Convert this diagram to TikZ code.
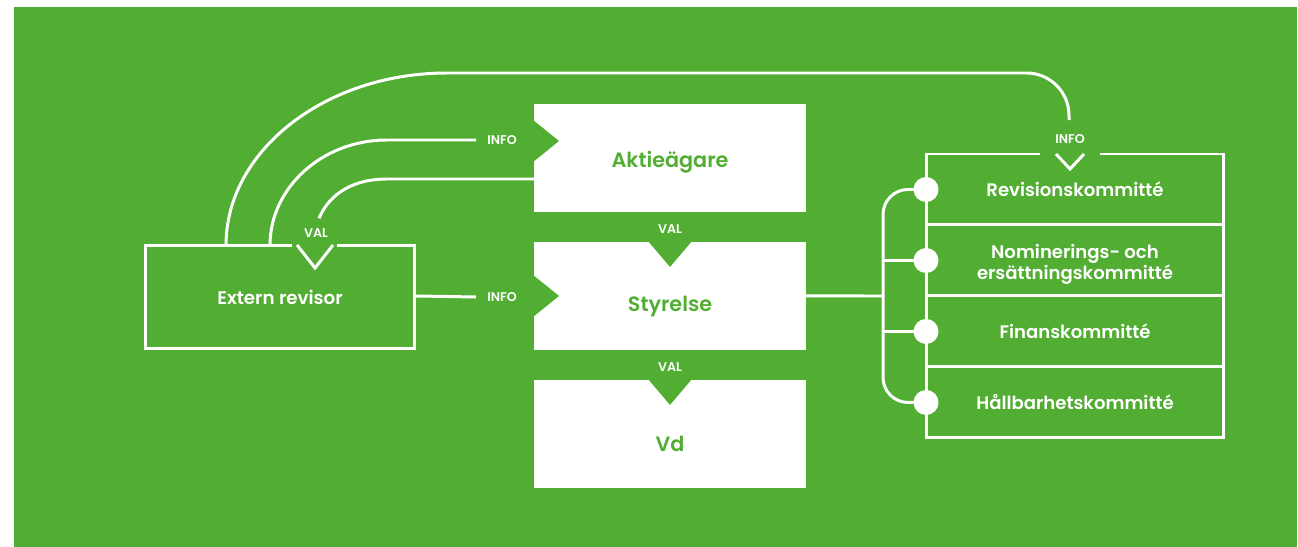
\documentclass[tikz,border=0pt]{standalone}
\usepackage{fontspec}
\setmainfont{Poppins}[BoldFont={Poppins SemiBold}]
\usetikzlibrary{positioning,calc}
\definecolor{bolaggron}{HTML}{52AE32}
\newcommand{\sankt}[2]{\raisebox{-#1}[0pt][0pt]{#2}}

\tikzset{
  vitbox/.style = {fill=white, text=bolaggron, font=\bfseries\fontsize{11.8}{14}\selectfont,
                   minimum width=5.44cm, minimum height=2.16cm, inner sep=0pt, outer sep=0pt},
  ramruta/.style = {text=white, font=\bfseries\fontsize{10.4}{12}\selectfont,
                    minimum width=5.4cm, minimum height=2.08cm, inner sep=0pt, outer sep=0pt},
  kommitte/.style = {draw=white, text=white, align=center, font=\bfseries\fontsize{10.3}{11.8}\selectfont,
                     minimum width=5.96cm, minimum height=1.42cm, inner sep=0pt, outer sep=0pt},
  etikett/.style = {text=white, font=\bfseries\fontsize{7.2}{8}\selectfont, inner sep=1pt},
  punkt/.style = {circle, fill=white, minimum size=0.5cm, inner sep=0pt},
  hak/.style = {fill=bolaggron, draw=none}
}

\begin{document}
\begin{tikzpicture}[x=0.02cm, y=-0.02cm, line width=1.7pt, white]
  \fill (0,0) rectangle (1298,547);
  \fill[bolaggron] (14,7) rectangle (1297,547);
  \useasboundingbox (0,0) rectangle (1298,547);

  % boxarna i mitten
  \node[vitbox] (aktie) at (670,158) {\sankt{5.2pt}{Aktieägare}};
  \node[vitbox, below=0.6cm of aktie] (styrelse) {\sankt{8.6pt}{Styrelse}};
  \node[vitbox, below=0.6cm of styrelse] (vd) {\sankt{9.8pt}{Vd}};
  \fill[hak] (aktie.west) ++(-1,-38) -- ++(26,21) -- ++(-26,21) -- cycle;
  \fill[hak] (styrelse.west) ++(-1,-21) -- ++(26,21) -- ++(-26,21) -- cycle;
  \fill[hak] (styrelse.north) ++(-22,-1) -- ++(22,26) -- ++(22,-26) -- cycle;
  \fill[hak] (vd.north) ++(-22,-1) -- ++(22,26) -- ++(22,-26) -- cycle;

  % extern revisor
  \node[ramruta] (revisor) at (280,297) {Extern revisor};
  \draw ($(revisor.north)+(12,0)$) -- (revisor.north west) -- (revisor.south west)
        -- (revisor.south east) -- (revisor.north east) -- ($(revisor.north)+(57,0)$);
  \draw ($(revisor.north)+(17,0)$) -- ++(18,23) -- ++(18,-23);

  % kommittéer
  \node[kommitte] (revkom) at (1075,189.5) {Revisionskommitté};
  \node[kommitte, below=0pt of revkom] (nomkom) {};
  \node[kommitte, draw=none, minimum height=0pt] (nomtext) at ([yshift=-2.4pt]nomkom.center)
       {Nominerings- och\\ersättningskommitté};
  \node[kommitte, below=0pt of nomkom] (finkom) {Finanskommitté};
  \node[kommitte, below=0pt of finkom] (hallkom) {Hållbarhetskommitté};
  \fill[hak] (1040,150) rectangle (1100,158);
  \draw (1056,154) -- (1070,169) -- (1084,154);

  % etiketter
  \node[etikett] (infoakt) at (502,140) {INFO};
  \node[etikett] (inforev) at (502,297) {INFO};
  \node[etikett] (valrev) at (316,233) {VAL};
  \node[etikett] (infokom) at (1070,139) {INFO};
  \node[etikett] (valstyr) at (670,229) {VAL};
  \node[etikett] (valvd) at (670,367) {VAL};

  % linjer
  \draw (revisor.east |- styrelse.east) -- ($(inforev.west)+(-8,0)$);
  \draw ($(revisor.north west)+(81,0)$) .. controls +(0,-94) and +(-122,0) .. (447,73)
        [rounded corners=0.85cm] -- (1069,73) -- ($(infokom.north)+(-1,-11)$);
  \draw ($(revisor.north west)+(125,0)$) .. controls +(0,-57) and +(-65,0) .. (387,140)
        -- ($(infoakt.west)+(-8,0)$);
  \draw ($(valrev.north)+(3,-7)$) .. controls +(11,-26) and +(-32,0) .. (387,179)
        -- ($(aktie.west)+(0,21)$);

  \coordinate (buss) at (883,296);
  \draw (styrelse.east) -- (buss);
  \draw[rounded corners=0.5cm] (revkom.west) -- (buss |- revkom.west)
        -- (buss |- hallkom.west) -- (hallkom.west);
  \draw (nomkom.west) -- (buss |- nomkom.west);
  \draw (finkom.west) -- (buss |- finkom.west);
  \foreach \k in {revkom, nomkom, finkom, hallkom}
    \node[punkt] (punkt-\k) at (\k.west) {};
\end{tikzpicture}
\end{document}
